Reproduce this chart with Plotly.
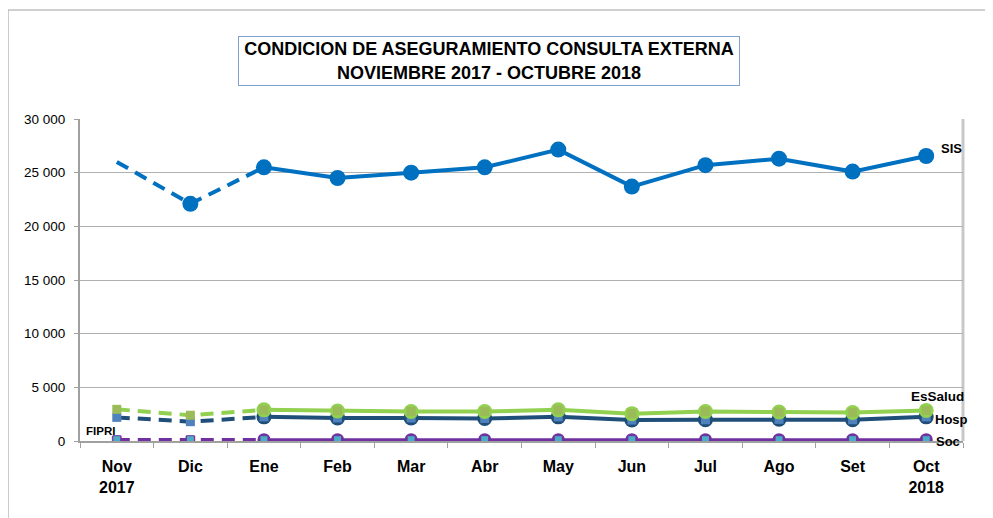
import plotly.graph_objects as go

# ---------------- data ----------------
months = ["Nov", "Dic", "Ene", "Feb", "Mar", "Abr", "May", "Jun", "Jul", "Ago", "Set", "Oct"]
tick_labels = ["Nov<br>2017", "Dic", "Ene", "Feb", "Mar", "Abr", "May", "Jun", "Jul", "Ago", "Set", "Oct<br>2018"]
y_ticks = [0, 5000, 10000, 15000, 20000, 25000, 30000]
y_tick_labels = ["0", "5 000", "10 000", "15 000", "20 000", "25 000", "30 000"]

sis = [26000, 22100, 25500, 24500, 25000, 25500, 27150, 23700, 25700, 26300, 25100, 26550]
essalud = [2950, 2400, 2900, 2800, 2750, 2750, 2900, 2550, 2750, 2700, 2650, 2850]
hosp = [2200, 1800, 2250, 2150, 2150, 2100, 2250, 1950, 1980, 2020, 1980, 2250]
soc = [120, 120, 120, 120, 120, 120, 120, 120, 120, 120, 120, 120]
fipri = [120, 120, 120, 120, 120, 120, 120, 120, 120, 120, 120, 120]
otros = [0, 0, 0, 0, 0, 0, 0, 0, 0, 0, 0, 0]

# previous-period segment (dashed) = first 3 months, current segment (solid) = from Ene
DASH_END = 3
SOLID_START = 2

C_SIS = "#0070C0"
C_ESS = "#92D050"
C_ESS_SQ = "#9BBB59"
C_HOSP = "#1F4E79"
C_HOSP_SQ = "#4F81BD"
C_SOC = "#7030A0"
C_FIPRI = "#4BACC6"
C_OTROS = "#FF5C8A"

fig = go.Figure()


def line(vals, color, width, dash, start, end):
    fig.add_trace(go.Scatter(x=months[start:end], y=vals[start:end], mode="lines",
                             line=dict(color=color, width=width, dash=dash),
                             hoverinfo="skip", showlegend=False))


def markers(xs, ys, symbol, size, color, lcolor=None, lwidth=0):
    fig.add_trace(go.Scatter(x=xs, y=ys, mode="markers",
                             marker=dict(symbol=symbol, size=size, color=color,
                                         line=dict(color=lcolor or color, width=lwidth)),
                             hoverinfo="skip", showlegend=False))


DASH = "13px,8px"

# ---- otros (pink, underneath) ----
markers(months, otros, "square", 10, C_OTROS)

# ---- Soc (purple) ----
line(soc, C_SOC, 3.5, DASH, 0, DASH_END)
line(soc, C_SOC, 3, "solid", SOLID_START, 12)
markers(months[SOLID_START:], soc[SOLID_START:], "circle", 13, C_SOC)
# ---- FIPRI (cyan squares) ----
markers(months, fipri, "square", 8, C_FIPRI, C_SOC, 1)

# ---- Hosp ----
line(hosp, C_HOSP, 4, DASH, 0, DASH_END)
line(hosp, C_HOSP, 4, "solid", SOLID_START, 12)
markers(months[SOLID_START:], hosp[SOLID_START:], "circle", 15, C_HOSP)
markers(months, hosp, "square", 9, C_HOSP_SQ)

# ---- EsSalud ----
line(essalud, C_ESS, 4, DASH, 0, DASH_END)
line(essalud, C_ESS, 4, "solid", SOLID_START, 12)
markers(months[SOLID_START:], essalud[SOLID_START:], "circle", 15, C_ESS)
markers(months, essalud, "square", 9, C_ESS_SQ)

# ---- SIS ----
line(sis, C_SIS, 4, DASH, 0, DASH_END)
line(sis, C_SIS, 4, "solid", SOLID_START, 12)
markers(months[1:], sis[1:], "circle", 16, C_SIS)

# ---------------- series labels ----------------
def label(text, xi, y, xshift, yshift, size=13, xanchor="left"):
    fig.add_annotation(x=months[xi], y=y, text="<b>%s</b>" % text, showarrow=False,
                       xanchor=xanchor, yanchor="middle", xshift=xshift, yshift=yshift,
                       font=dict(family="Arial", size=size, color="black"))

label("SIS", 11, sis[11], 13, 8)
label("EsSalud", 11, essalud[11], 40, 14, size=13.5, xanchor="right")
label("Hosp", 11, hosp[11], 44, -3, xanchor="right")
label("Soc", 11, soc[11], 8, -2)
label("FIPRI", 0, fipri[0], -33, 9, size=11.5)

# ---------------- title ----------------
fig.add_annotation(xref="paper", yref="paper", x=0.4632, y=1.180,
                   text="<b>CONDICION DE ASEGURAMIENTO CONSULTA EXTERNA<br>NOVIEMBRE 2017 - OCTUBRE 2018</b>",
                   showarrow=False, xanchor="center", yanchor="middle",
                   font=dict(family="Arial", size=18, color="black"),
                   bordercolor="#7F9FCF", borderwidth=1, borderpad=1,
                   width=498, height=46, bgcolor="white")

# ---------------- frame shapes ----------------
# outer chart border
fig.add_shape(type="rect", xref="paper", yref="paper", x0=-0.0815, x1=1.2, y0=-0.6, y1=1.3385,
              line=dict(color="#A0A0A0", width=1), layer="below")
# right border of plot area
fig.add_shape(type="line", xref="paper", yref="paper", x0=1, x1=1, y0=0, y1=1,
              line=dict(color="#C8C8C8", width=3), layer="below")

# page body has an 8px margin: shrink the figure so the plot area lands at x 80-963, y 119-441
fig.update_layout(
    width=985, height=510,
    margin=dict(l=72, r=30, t=111, b=77),
    paper_bgcolor="white", plot_bgcolor="white",
    showlegend=False,
    xaxis=dict(type="category", categoryorder="array", categoryarray=months,
               tickmode="array", tickvals=months, ticktext=["<b>%s</b>" % t for t in tick_labels],
               tickfont=dict(family="Arial", size=16, color="black"),
               range=[-0.5, 11.5], showgrid=False, zeroline=False,
               showline=True, linecolor="#A0A0A0", linewidth=2,
               ticks="outside", ticklen=5, tickcolor="#A0A0A0", tickson="boundaries",
               ticklabelstandoff=10),
    yaxis=dict(range=[0, 30000], tickmode="array", tickvals=y_ticks, ticktext=y_tick_labels,
               tickfont=dict(family="Arial", size=13.5, color="black"),
               showgrid=True, gridcolor="#B0B0B0", gridwidth=1, zeroline=False,
               showline=True, linecolor="#A0A0A0", linewidth=2,
               ticks="outside", ticklen=4, tickcolor="#A0A0A0",
               ticklabelstandoff=6),
)

fig.write_html("out.html")
